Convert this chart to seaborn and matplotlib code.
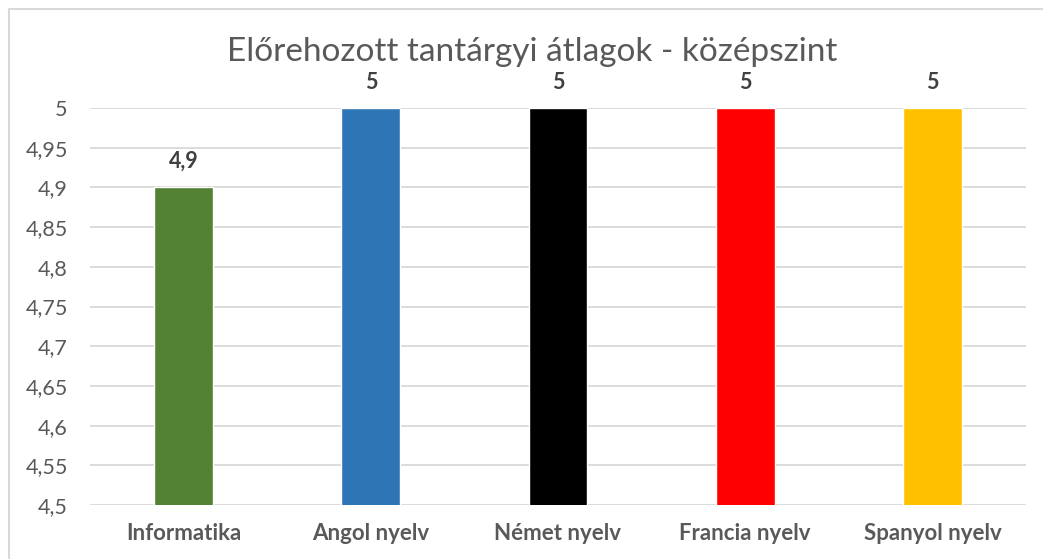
import pandas as pd
import seaborn as sns
import matplotlib.pyplot as plt
from matplotlib.lines import Line2D
from matplotlib.ticker import FuncFormatter

# chart data
targyak = ["Informatika", "Angol nyelv", "Német nyelv", "Francia nyelv", "Spanyol nyelv"]
atlagok = [4.9, 5, 5, 5, 5]
szinek = ["#548235", "#2E75B6", "#000000", "#FF0000", "#FFC000"]
y_ticks = [4.5, 4.55, 4.6, 4.65, 4.7, 4.75, 4.8, 4.85, 4.9, 4.95, 5]

df = pd.DataFrame({"Tantárgy": targyak, "Átlag": atlagok})

sns.set_style("white")
plt.rcParams['font.family'] = ['Lato', 'DejaVu Sans']

fig = plt.figure(figsize=(10.43, 5.59), dpi=100)
ax = fig.add_axes([90/1043, 1 - 505/559, 936/1043, 397/559])

b = sns.barplot(x="Tantárgy", y="Átlag", hue="Tantárgy", data=df,
                palette=szinek, saturation=1, width=0.315, legend=False,
                ax=ax, zorder=3)

ax.set_ylim(4.5, 5)
ax.set_yticks(y_ticks)
ax.yaxis.set_major_formatter(FuncFormatter(lambda v, p: f"{v:g}".replace(".", ",")))
ax.grid(axis="y", color="#D9D9D9", linewidth=1.3, zorder=0)
ax.set_axisbelow(True)
sns.despine(ax=ax, left=True, bottom=True)
ax.set_xlabel("")
ax.set_ylabel("")
ax.tick_params(axis="y", labelsize=15.5, colors="#595959", length=0, pad=16)
ax.tick_params(axis="x", labelsize=16, colors="#595959", length=0, pad=13)
for t in ax.get_xticklabels():
    t.set_fontweight("bold")

# value labels
for i, v in enumerate(atlagok):
    ax.annotate(f"{v:g}".replace(".", ","), (i, v), xytext=(0, 11),
                textcoords="offset points", ha="center", va="bottom",
                fontsize=15.5, fontweight="bold", color="#404040",
                annotation_clip=False)

fig.text(532/1043, 1 - 52/559, "Előrehozott tantárgyi átlagok - középszint",
         ha="center", va="center", fontsize=24, color="#595959")

# chart border (top and left edges visible)
fig.add_artist(Line2D([9/1043, 1], [1 - 9/559, 1 - 9/559], color="#D9D9D9", linewidth=1.5))
fig.add_artist(Line2D([9/1043, 9/1043], [0, 1 - 9/559], color="#D9D9D9", linewidth=1.5))

plt.savefig("out.png", dpi=100)
